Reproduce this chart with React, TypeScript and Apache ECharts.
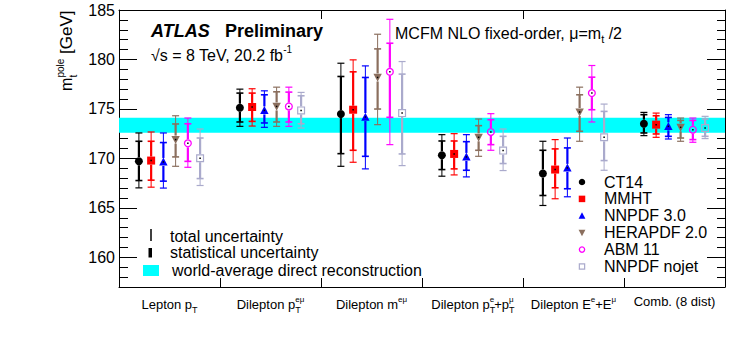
import React, { useEffect, useRef } from "react";
import * as echarts from "echarts";

// ---------------- data ----------------
const categories = [
  "Lepton pT",
  "Dilepton pT eμ",
  "Dilepton m eμ",
  "Dilepton pTe+pTμ",
  "Dilepton Ee+Eμ",
  "Comb. (8 dist)",
];
const categoryLabels = [
  "Lepton p{sub|T}",
  "Dilepton p{sub|T}{sup2|eμ}",
  "Dilepton m{sup|eμ}",
  "Dilepton p{sub|T}{sup1|e}+p{sub|T}{sup1|μ}",
  "Dilepton E{sup|e}+E{sup|μ}",
  "Comb. (8 dist)",
];

const pdfNames = ["CT14", "MMHT", "NNPDF 3.0", "HERAPDF 2.0", "ABM 11", "NNPDF nojet"];
const pdfColors = ["#000000", "#ff0000", "#0000ff", "#8b6f5e", "#ff00ff", "#aaaacc"];
const pdfMarkers = ["circle", "square", "triangle", "triangleDown", "openCircle", "openSquare"];

const ct14Central = [169.71, 175.12, 174.48, 170.32, 168.47, 173.51];
const ct14StatHi = [171.73, 176.6, 178.28, 171.76, 170.82, 174.42];
const ct14StatLo = [167.76, 173.68, 170.48, 168.87, 166.25, 172.57];
const ct14TotHi = [172.57, 177.0, 179.62, 172.4, 171.73, 174.65];
const ct14TotLo = [167.02, 173.24, 169.2, 168.2, 165.24, 172.3];

const mmhtCentral = [169.78, 175.2, 174.92, 170.45, 168.87, 173.41];
const mmhtStatHi = [171.73, 176.6, 178.75, 171.76, 170.96, 174.31];
const mmhtStatLo = [167.8, 173.74, 170.82, 168.94, 167.03, 172.47];
const mmhtTotHi = [172.67, 177.04, 179.96, 172.5, 171.9, 174.58];
const mmhtTotLo = [167.09, 173.27, 169.61, 168.33, 165.92, 172.13];

const nnpdfCentral = [169.64, 174.85, 174.18, 170.15, 169.04, 173.24];
const nnpdfStatHi = [171.6, 176.43, 178.18, 171.69, 171.06, 174.14];
const nnpdfStatLo = [167.7, 173.58, 170.21, 168.8, 166.93, 172.23];
const nnpdfTotHi = [172.57, 176.83, 179.35, 172.4, 172.06, 174.42];
const nnpdfTotLo = [167.0, 173.14, 168.94, 168.13, 166.12, 171.96];

const heraCentral = [171.9, 175.25, 178.18, 172.13, 174.69, 173.14];
const heraStatHi = [173.48, 176.73, 181.07, 173.31, 176.43, 173.84];
const heraStatLo = [170.15, 173.68, 174.99, 170.82, 172.74, 172.06];
const heraTotHi = [174.31, 177.2, 182.55, 173.98, 177.2, 174.08];
const heraTotLo = [169.2, 173.24, 173.41, 170.21, 171.73, 171.73];

const abmCentral = [171.52, 175.25, 178.75, 172.67, 176.6, 172.9];
const abmStatHi = [173.5, 176.7, 181.64, 173.91, 178.21, 173.84];
const abmStatLo = [169.7, 173.68, 174.15, 171.39, 174.92, 171.9];
const abmTotHi = [174.08, 177.2, 184.06, 174.52, 179.39, 174.08];
const abmTotLo = [169.1, 173.24, 171.39, 170.82, 173.68, 171.63];

const nojetCentral = [170.02, 174.85, 174.58, 170.79, 172.13, 173.07];
const nojetStatHi = [172.06, 176.33, 178.52, 172.23, 174.75, 173.98];
const nojetStatLo = [167.96, 173.5, 170.45, 169.48, 169.78, 172.23];
const nojetTotHi = [172.97, 176.67, 179.79, 172.97, 175.49, 174.25];
const nojetTotLo = [167.26, 173.07, 169.27, 168.77, 168.8, 172.0];

const worldAverage = 173.34;
const worldAverageErr = 0.76;

const yMin = 157;
const yMax = 185;

const pdfTables = [
  [ct14Central, ct14StatLo, ct14StatHi, ct14TotLo, ct14TotHi],
  [mmhtCentral, mmhtStatLo, mmhtStatHi, mmhtTotLo, mmhtTotHi],
  [nnpdfCentral, nnpdfStatLo, nnpdfStatHi, nnpdfTotLo, nnpdfTotHi],
  [heraCentral, heraStatLo, heraStatHi, heraTotLo, heraTotHi],
  [abmCentral, abmStatLo, abmStatHi, abmTotLo, abmTotHi],
  [nojetCentral, nojetStatLo, nojetStatHi, nojetTotLo, nojetTotHi],
];

// ---------------- helpers ----------------
const FONT = "Liberation Sans, Arial, Helvetica, sans-serif";
const SPACING = 0.1212; // fraction of category width between neighbouring PDFs

function marker(kind: string, x: number, y: number, s: number, color: string): any {
  const h = s / 2;
  switch (kind) {
    case "circle":
      return { type: "circle", shape: { cx: x, cy: y, r: h }, style: { fill: color } };
    case "square":
      return { type: "rect", shape: { x: x - h, y: y - h, width: s, height: s }, style: { fill: color } };
    case "triangle":
      return {
        type: "polygon",
        shape: { points: [[x, y - h * 1.1], [x + h * 1.05, y + h * 0.9], [x - h * 1.05, y + h * 0.9]] },
        style: { fill: color },
      };
    case "triangleDown":
      return {
        type: "polygon",
        shape: { points: [[x, y + h * 1.1], [x + h * 1.05, y - h * 0.9], [x - h * 1.05, y - h * 0.9]] },
        style: { fill: color },
      };
    case "openCircle":
      return {
        type: "circle",
        shape: { cx: x, cy: y, r: h - 0.6 },
        style: { fill: "none", stroke: color, lineWidth: 1.3 },
      };
    default:
      return {
        type: "rect",
        shape: { x: x - h + 0.6, y: y - h + 0.6, width: s - 1.2, height: s - 1.2 },
        style: { fill: "none", stroke: color, lineWidth: 1.2 },
      };
  }
}

function makeRenderItem(k: number) {
  const color = pdfColors[k];
  const kind = pdfMarkers[k];
  return (params: any, api: any) => {
    const ci = api.value(0);
    const bw = api.size([1, 0])[0];
    const base = api.coord([ci, api.value(1)]);
    const x = base[0] + (k - 2.5) * bw * SPACING;
    const yc = base[1];
    const yOf = (v: number) => api.coord([ci, v])[1];
    const yStatLo = yOf(api.value(2));
    const yStatHi = yOf(api.value(3));
    const yTotLo = yOf(api.value(4));
    const yTotHi = yOf(api.value(5));
    const gap = 4;
    const ln = (x1: number, y1: number, x2: number, y2: number, w: number) => ({
      type: "line",
      shape: { x1, y1, x2, y2 },
      style: { stroke: color, lineWidth: w },
    });
    const children: any[] = [
      ln(x, yTotHi, x, yStatHi, 1),
      ln(x, yStatLo, x, yTotLo, 1),
      ln(x, yStatHi, x, yc - gap, 2.2),
      ln(x, yc + gap, x, yStatLo, 2.2),
    ];
    for (const yy of [yTotHi, yTotLo]) children.push(ln(x - 3.5, yy, x + 3.5, yy, 1.2));
    for (const yy of [yStatHi, yStatLo]) children.push(ln(x - 3.5, yy, x + 3.5, yy, 1.6));
    children.push(marker(kind, x, yc, 8, color));
    children.push({
      type: "rect",
      shape: { x: x - 0.75, y: yc - 0.75, width: 1.5, height: 1.5 },
      style: { fill: "#000" },
    });
    return { type: "group", children };
  };
}

function txt(text: string, x: number, y: number, size: number, extra: any = {}): any {
  return {
    type: "text",
    x,
    y,
    style: {
      text,
      fill: "#000",
      fontSize: size,
      fontFamily: FONT,
      align: "left",
      textAlign: "left",
      verticalAlign: "middle",
      textVerticalAlign: "middle",
      ...extra,
    },
  };
}

export default function App() {
  const ref = useRef<HTMLDivElement>(null);
  useEffect(() => {
    if (!ref.current) return;
    const chart = echarts.init(ref.current, undefined, { renderer: "svg" });

    const pdfSeries = pdfNames.map((name, k) => ({
      type: "custom",
      name,
      xAxisIndex: 0,
      yAxisIndex: 0,
      z: 3,
      clip: false,
      renderItem: makeRenderItem(k),
      data: categories.map((_, i) => [
        i,
        pdfTables[k][0][i],
        pdfTables[k][1][i],
        pdfTables[k][2][i],
        pdfTables[k][3][i],
        pdfTables[k][4][i],
      ]),
    }));

    const bandSeries = {
      type: "custom",
      name: "world average",
      xAxisIndex: 0,
      yAxisIndex: 0,
      z: 1,
      renderItem: (params: any, api: any) => {
        const cs = params.coordSys;
        const y1 = api.coord([0, api.value(2)])[1];
        const y2 = api.coord([0, api.value(1)])[1];
        return {
          type: "rect",
          shape: { x: cs.x, y: y1, width: cs.width, height: y2 - y1 },
          style: { fill: "#00ffff" },
        };
      },
      data: [[0, worldAverage - worldAverageErr, worldAverage + worldAverageErr]],
    };

    const legendRows = pdfNames.map((name, k) => {
      const y = 182 + k * 16.9;
      return [marker(pdfMarkers[k], 582, y, 6.5, pdfColors[k]), txt(name, 604, y, 16)];
    });

    const axisLineStyle = { color: "#000", width: 1 };
    const baseYAxis = {
      type: "value",
      min: yMin,
      max: yMax,
      splitLine: { show: false },
      axisLine: { show: false },
    };

    const option: any = {
      animation: false,
      textStyle: { fontFamily: FONT },
      grid: { left: 119, top: 10, right: 22, bottom: 55 },
      xAxis: [
        {
          type: "category",
          data: categories,
          position: "bottom",
          boundaryGap: true,
          axisLine: { show: true, lineStyle: axisLineStyle },
          axisTick: { show: true, inside: true, length: 9, lineStyle: axisLineStyle },
          splitLine: { show: false },
          axisLabel: {
            show: true,
            interval: 0,
            color: "#000",
            fontSize: 13,
            fontFamily: FONT,
            margin: 8,
            formatter: (_v: string, i: number) => categoryLabels[i],
            rich: {
              sub: { fontSize: 9, fontFamily: FONT, color: "#000", padding: [10, 0, 0, 0] },
              sup: { fontSize: 8, fontFamily: FONT, color: "#000", padding: [0, 0, 10, 0] },
              sup1: { fontSize: 8, fontFamily: FONT, color: "#000", padding: [0, 0, 10, -5.5] },
              sup2: { fontSize: 8, fontFamily: FONT, color: "#000", padding: [0, 0, 10, -5.5] },
            },
          },
        },
        {
          type: "category",
          data: categories,
          position: "top",
          boundaryGap: true,
          axisLine: { show: true, lineStyle: axisLineStyle },
          axisTick: { show: true, inside: true, length: 9, lineStyle: axisLineStyle },
          axisLabel: { show: false },
          splitLine: { show: false },
        },
      ],
      yAxis: [
        {
          ...baseYAxis,
          position: "left",
          interval: 1,
          axisLine: { show: true, lineStyle: axisLineStyle },
          axisTick: { show: true, inside: true, length: 9, lineStyle: axisLineStyle },
          axisLabel: {
            show: true,
            color: "#000",
            fontSize: 16,
            fontFamily: FONT,
            margin: 4,
            formatter: (v: number) => (Math.round(v) % 5 === 0 ? String(Math.round(v)) : ""),
          },
        },
        {
          ...baseYAxis,
          position: "left",
          splitNumber: 5,
          axisTick: { show: true, inside: true, length: 18, lineStyle: axisLineStyle },
          axisLabel: { show: false },
        },
        {
          ...baseYAxis,
          position: "right",
          interval: 1,
          axisLine: { show: true, lineStyle: axisLineStyle },
          axisTick: { show: true, inside: true, length: 8, lineStyle: axisLineStyle },
          axisLabel: { show: false },
        },
        {
          ...baseYAxis,
          position: "right",
          splitNumber: 5,
          axisTick: { show: true, inside: true, length: 18, lineStyle: axisLineStyle },
          axisLabel: { show: false },
        },
      ],
      series: [bandSeries, ...pdfSeries],
      graphic: [
        // y-axis title
        {
          type: "group",
          x: 66,
          y: 91,
          rotation: Math.PI / 2,
          children: [
            txt("m", 0, 0, 16),
            txt("t", 13.5, 7, 10),
            txt("pole", 13.5, -6, 10),
            txt("[GeV]", 37, 0, 17),
          ],
        },
        txt("ATLAS", 151, 31, 18, { fontWeight: "bold", fontStyle: "italic" }),
        txt("Preliminary", 225, 31, 18, { fontWeight: "bold" }),
        txt("√s = 8 TeV, 20.2 fb{sup|-1}", 151, 55, 16, {
          rich: { sup: { fontSize: 10, fontFamily: FONT, fill: "#000", padding: [0, 0, 12, 0] } },
        }),
        txt("MCFM NLO fixed-order, μ=m{sub|t} /2", 395, 33, 16, {
          rich: { sub: { fontSize: 11, fontFamily: FONT, fill: "#000", padding: [12, 0, 0, 0] } },
        }),
        // left legend
        {
          type: "line",
          shape: { x1: 151, y1: 229, x2: 151, y2: 241 },
          style: { stroke: "#000", lineWidth: 1.5 },
        },
        {
          type: "rect",
          shape: { x: 148.5, y: 248, width: 3.5, height: 9.5 },
          style: { fill: "#000" },
        },
        {
          type: "rect",
          shape: { x: 143, y: 265, width: 16, height: 11 },
          style: { fill: "#00ffff" },
        },
        txt("total uncertainty", 170, 236, 16),
        txt("statistical uncertainty", 170, 252.5, 16),
        txt("world-average direct reconstruction", 172, 270, 16),
        // right legend
        ...legendRows.flat(),
      ],
    };

    chart.setOption(option);
    return () => chart.dispose();
  }, []);

  return (
    <div
      ref={ref}
      style={{ position: "absolute", left: 0, top: 0, width: 747, height: 342, background: "#fff" }}
    />
  );
}
